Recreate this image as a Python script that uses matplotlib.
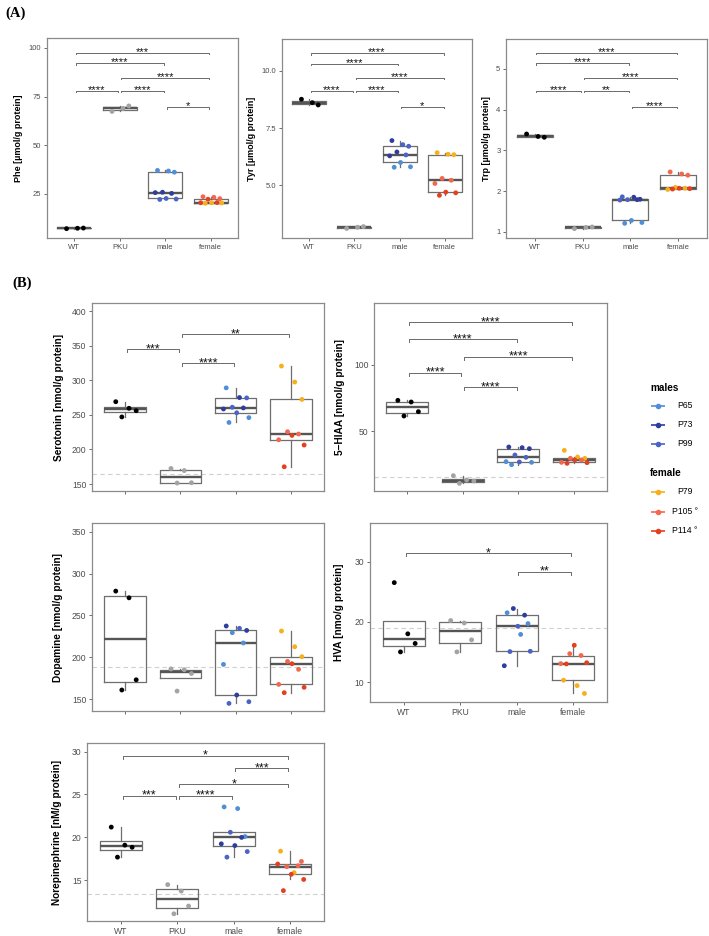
import numpy as np
import matplotlib
matplotlib.use('Agg')
import matplotlib.pyplot as plt

plt.rcParams['font.family'] = ['Liberation Sans', 'DejaVu Sans']

W, H = 709, 936
groups = ['WT', 'PKU', 'male', 'female']

col = {'WT': '#000000', 'PKU': '#a3a3a3',
       'P65': '#4f8fd6', 'P73': '#2f3d9c', 'P99': '#4a63c4',
       'P79': '#f6b01b', 'P105': '#f2684e', 'P114': '#e4401f'}

# ---- panel A data ----
phe_wt = [7.2, 7.4, 7.5]
phe_pku = [67.4, 68.9, 70.2]
phe_male = [37.1, 36.8, 36.2, 25.9, 25.3, 25.7, 22.7, 22.4, 22.2]
phe_male_id = ['P65', 'P65', 'P65', 'P73', 'P73', 'P73', 'P99', 'P99', 'P99']
phe_female = [23.6, 23.3, 22.6, 22.3, 20.6, 20.5, 20.5, 20.4, 20.2]
phe_female_id = ['P105', 'P105', 'P105', 'P114', 'P114', 'P114', 'P79', 'P79', 'P79']
phe_sig = [(1, 4, 97.6, '***'), (1, 3, 92.1, '****'), (2, 4, 84.7, '****'),
           (1, 2, 78.1, '****'), (2, 3, 78.1, '****'), (3, 4, 69.5, '*')]

tyr_wt = [8.76, 8.61, 8.51]
tyr_pku = [3.10, 3.15, 3.18]
tyr_male = [6.95, 6.77, 6.70, 6.45, 6.32, 6.28, 5.99, 5.80, 5.78]
tyr_male_id = ['P73', 'P99', 'P99', 'P73', 'P99', 'P73', 'P65', 'P65', 'P65']
tyr_female = [6.42, 6.35, 6.33, 5.29, 5.21, 5.07, 4.69, 4.66, 4.55]
tyr_female_id = ['P79', 'P79', 'P79', 'P105', 'P105', 'P105', 'P114', 'P114', 'P114']
tyr_sig = [(1, 4, 10.77, '****'), (1, 3, 10.32, '****'), (2, 4, 9.69, '****'),
           (1, 2, 9.12, '****'), (2, 3, 9.12, '****'), (3, 4, 8.41, '*')]

trp_wt = [3.40, 3.34, 3.32]
trp_pku = [1.08, 1.11, 1.12]
trp_male = [1.86, 1.85, 1.80, 1.79, 1.79, 1.78, 1.28, 1.23, 1.21]
trp_male_id = ['P99', 'P73', 'P73', 'P99', 'P73', 'P99', 'P65', 'P65', 'P65']
trp_female = [2.47, 2.42, 2.39, 2.09, 2.07, 2.04, 2.07, 2.06, 2.05]
trp_female_id = ['P105', 'P105', 'P105', 'P79', 'P79', 'P79', 'P114', 'P114', 'P114']
trp_sig = [(1, 4, 5.38, '****'), (1, 3, 5.13, '****'), (2, 4, 4.78, '****'),
           (1, 2, 4.46, '****'), (2, 3, 4.46, '**'), (3, 4, 4.06, '****')]

# ---- panel B data ----
ser_wt = [269, 259.5, 256, 247]
ser_pku = [172.5, 169.5, 151.9, 151.5]
ser_male = [289, 275, 274.5, 261, 260, 258.5, 253, 246, 239]
ser_male_id = ['P65', 'P73', 'P99', 'P99', 'P73', 'P73', 'P99', 'P65', 'P65']
ser_female = [320.5, 297.4, 272.3, 225.6, 222.3, 214, 220.3, 206.4, 175]
ser_female_id = ['P79', 'P79', 'P79', 'P105', 'P105', 'P105', 'P114', 'P114', 'P114']
ser_sig = [(2, 4, 366.3, '**'), (1, 2, 344.6, '***'), (2, 3, 324.4, '****')]
ser_ref = 164

hiaa_wt = [73.25, 72, 64.75, 61.5]
hiaa_pku = [16.75, 13.5, 12.75, 11.0]
hiaa_male = [38.25, 37.75, 37, 32.25, 30.5, 27.25, 27, 26.75, 25]
hiaa_male_id = ['P73', 'P73', 'P73', 'P99', 'P99', 'P65', 'P99', 'P65', 'P65']
hiaa_female = [35.75, 30.75, 29.75, 29.75, 28.5, 26.75, 28.5, 26.5, 26]
hiaa_female_id = ['P79', 'P79', 'P79', 'P105', 'P105', 'P105', 'P114', 'P114', 'P114']
hiaa_sig = [(1, 4, 131.75, '****'), (1, 3, 119, '****'), (2, 4, 106, '****'),
            (1, 2, 94, '****'), (2, 3, 83.25, '****')]
hiaa_ref = 15.5

dopa_wt = [279, 271, 173, 160.8]
dopa_pku = [186, 185, 180.5, 159.5]
dopa_male = [237.3, 234.5, 232, 229.3, 217, 191.4, 154.8, 146.8, 144.8]
dopa_male_id = ['P73', 'P99', 'P73', 'P65', 'P65', 'P65', 'P73', 'P99', 'P99']
dopa_female = [231.3, 212.5, 200.6, 195, 185.5, 167.5, 192.2, 164, 157.6]
dopa_female_id = ['P79', 'P79', 'P79', 'P105', 'P105', 'P105', 'P114', 'P114', 'P114']
dopa_ref = 188.6

hva_wt = [26.5, 18.0, 16.4, 15.0]
hva_pku = [20.2, 19.8, 17.0, 15.0]
hva_male = [21.5, 17.9, 19.7, 22.2, 21.1, 12.7, 19.25, 15.1, 15.05]
hva_male_id = ['P65', 'P65', 'P65', 'P73', 'P73', 'P73', 'P99', 'P99', 'P99']
hva_female = [10.3, 9.4, 8.1, 14.7, 14.4, 13.05, 16.1, 13.2, 13.0]
hva_female_id = ['P79', 'P79', 'P79', 'P105', 'P105', 'P105', 'P114', 'P114', 'P114']
hva_sig = [(1, 4, 31.4, '*'), (3, 4, 28.3, '**')]
hva_ref = 19.0

ne_wt = [21.2, 19.1, 18.85, 17.7]
ne_pku = [14.5, 13.75, 12.0, 11.1]
ne_male = [23.55, 23.36, 20.1, 20.6, 20.0, 19.25, 19.05, 18.35, 17.7]
ne_male_id = ['P65', 'P65', 'P65', 'P99', 'P73', 'P73', 'P73', 'P99', 'P99']
ne_female = [18.4, 15.9, 17.2, 16.6, 16.7, 16.9, 15.7, 15.1, 13.8]
ne_female_id = ['P79', 'P79', 'P105', 'P105', 'P105', 'P114', 'P114', 'P114', 'P114']
ne_sig = [(1, 4, 29.5, '*'), (3, 4, 28.1, '***'), (2, 4, 26.2, '*'),
          (1, 2, 24.85, '***'), (2, 3, 24.85, '****')]
ne_ref = 13.4

# fixed jitter pattern (deterministic)
JIT = np.array([-0.17, 0.07, 0.2, -0.06, 0.14, -0.22, 0.02, 0.24, -0.12])

fig = plt.figure(figsize=(W / 100, H / 100), dpi=100)


def panel(box, wt, pku, male, male_id, female, female_id, ylim, yticks, ylabel,
          label_x, sig=(), ref=None, fmt='{:g}', xlabels=True, tick_fs=5.5,
          lab_fs=6.5, tip=0.008, star_fs=8, star_dy=-1.5):
    l, t, r, b = box
    ax = fig.add_axes([l / W, 1 - b / H, (r - l) / W, (b - t) / H])
    data = [wt, pku, male, female]
    grey = '#6e6e6e'
    ax.boxplot(data, positions=[1, 2, 3, 4], widths=0.75, showfliers=False,
               showcaps=False, whis=1.5,
               boxprops=dict(color=grey, lw=0.9),
               whiskerprops=dict(color=grey, lw=0.9),
               medianprops=dict(color='#555555', lw=1.7))
    colours = [[col['WT']] * len(wt), [col['PKU']] * len(pku),
               [col[k] for k in male_id], [col[k] for k in female_id]]
    for i, vals in enumerate(data):
        xs = i + 1 + JIT[:len(vals)]
        ax.scatter(xs, vals, s=12, c=colours[i], linewidths=0, zorder=3)
    if ref is not None:
        ax.axhline(ref, color='#cfcfcf', lw=0.8, ls=(0, (4, 3)), zorder=0)
    h = tip * (ylim[1] - ylim[0])
    for i, j, y, lab in sig:
        x1, x2 = i + 0.03, j - 0.03
        ax.plot([x1, x1, x2, x2], [y - h, y, y, y - h], color='#6a6a6a', lw=0.7)
        ax.annotate(lab, xy=((i + j) / 2, y), xytext=(0, star_dy),
                    textcoords='offset points', ha='center', va='baseline',
                    fontsize=star_fs, color='#111111')
    ax.set_xlim(0.4, 4.6)
    ax.set_ylim(*ylim)
    ax.set_yticks(yticks)
    ax.set_yticklabels([fmt.format(v) for v in yticks])
    ax.set_xticks([1, 2, 3, 4])
    if xlabels:
        ax.set_xticklabels(groups)
    else:
        ax.set_xticklabels([])
        ax.tick_params(axis='x', length=0)
    ax.tick_params(labelsize=tick_fs, labelcolor='#4d4d4d', color='#555555',
                   length=2.5, width=0.6, pad=1.5)
    for s in ax.spines.values():
        s.set_color('#8a8a8a')
        s.set_linewidth(0.9)
    fig.text(label_x / W, 1 - (t + b) / 2 / H, ylabel, rotation=90, ha='center',
             va='center', fontsize=lab_fs, fontweight='bold')
    return ax


# panel A
panel((47, 38, 238, 238), phe_wt, phe_pku, phe_male, phe_male_id, phe_female,
      phe_female_id, (2.4, 105.1), [25, 50, 75, 100], 'Phe [µmol/g protein]', 19,
      sig=phe_sig, tip=0.006)
panel((282, 39, 472, 238), tyr_wt, tyr_pku, tyr_male, tyr_male_id, tyr_female,
      tyr_female_id, (2.68, 11.4), [5.0, 7.5, 10.0], 'Tyr [µmol/g protein]', 252,
      sig=tyr_sig, fmt='{:.1f}', tip=0.006)
panel((506, 39, 707, 238), trp_wt, trp_pku, trp_male, trp_male_id, trp_female,
      trp_female_id, (0.85, 5.73), [1, 2, 3, 4, 5], 'Trp [µmol/g protein]', 486,
      sig=trp_sig, tip=0.006)

# panel B
kwB = dict(tick_fs=6.2, lab_fs=7.3, tip=0.016, star_fs=9, star_dy=-2.2)
panel((92, 303, 324, 491), ser_wt, ser_pku, ser_male, ser_male_id, ser_female,
      ser_female_id, (140, 411.6), [150, 200, 250, 300, 350, 400],
      'Serotonin [nmol/g protein]', 59, sig=ser_sig, ref=ser_ref, xlabels=False,
      **kwB)
panel((374, 303, 607, 491), hiaa_wt, hiaa_pku, hiaa_male, hiaa_male_id, hiaa_female,
      hiaa_female_id, (5.25, 146.25), [50, 100], '5\u2212HIAA [nmol/g protein]', 340,
      sig=hiaa_sig, ref=hiaa_ref, xlabels=False, **kwB)
panel((92, 523, 324, 711), dopa_wt, dopa_pku, dopa_male, dopa_male_id, dopa_female,
      dopa_female_id, (135.7, 360.4), [150, 200, 250, 300, 350],
      'Dopamine [nmol/g protein]', 58, ref=dopa_ref, xlabels=False, **kwB)
panel((370, 523, 607, 702), hva_wt, hva_pku, hva_male, hva_male_id, hva_female,
      hva_female_id, (6.68, 36.4), [10, 20, 30], 'HVA [nmo/g protein]', 339,
      sig=hva_sig, ref=hva_ref, **kwB)
panel((87, 743, 324, 921), ne_wt, ne_pku, ne_male, ne_male_id, ne_female,
      ne_female_id, (10.26, 31.0), [15, 20, 25, 30],
      'Norepinephrine [nM/g protein]', 57, sig=ne_sig, ref=ne_ref, **kwB)

# panel letters
fig.text(5 / W, 1 - 13 / H, '(A)', family='Liberation Serif', fontweight='bold',
         fontsize=10.5, va='center')
fig.text(12 / W, 1 - 283 / H, '(B)', family='Liberation Serif', fontweight='bold',
         fontsize=10.5, va='center')

# legend drawn in its own axes using pixel coordinates
lg = fig.add_axes([640 / W, 1 - 545 / H, 69 / W, 170 / H])
lg.set_xlim(640, 709)
lg.set_ylim(545, 375)
lg.axis('off')
legend_rows = [('males', None, 388), ('P65', 'P65', 406), ('P73', 'P73', 425),
               ('P99', 'P99', 444), ('female', None, 473), ('P79', 'P79', 492),
               ('P105 °', 'P105', 512), ('P114 °', 'P114', 531)]
for txt, key, y in legend_rows:
    if key is None:
        lg.text(650, y, txt, fontsize=7.2, fontweight='bold', va='center', ha='left')
    else:
        lg.plot([651, 665], [y, y], color=col[key], lw=1.2, solid_capstyle='butt')
        lg.plot([658], [y], 'o', color=col[key], ms=3)
        lg.text(685, y, txt, fontsize=6.2, va='center', ha='center')

fig.savefig('out.png', dpi=100)
